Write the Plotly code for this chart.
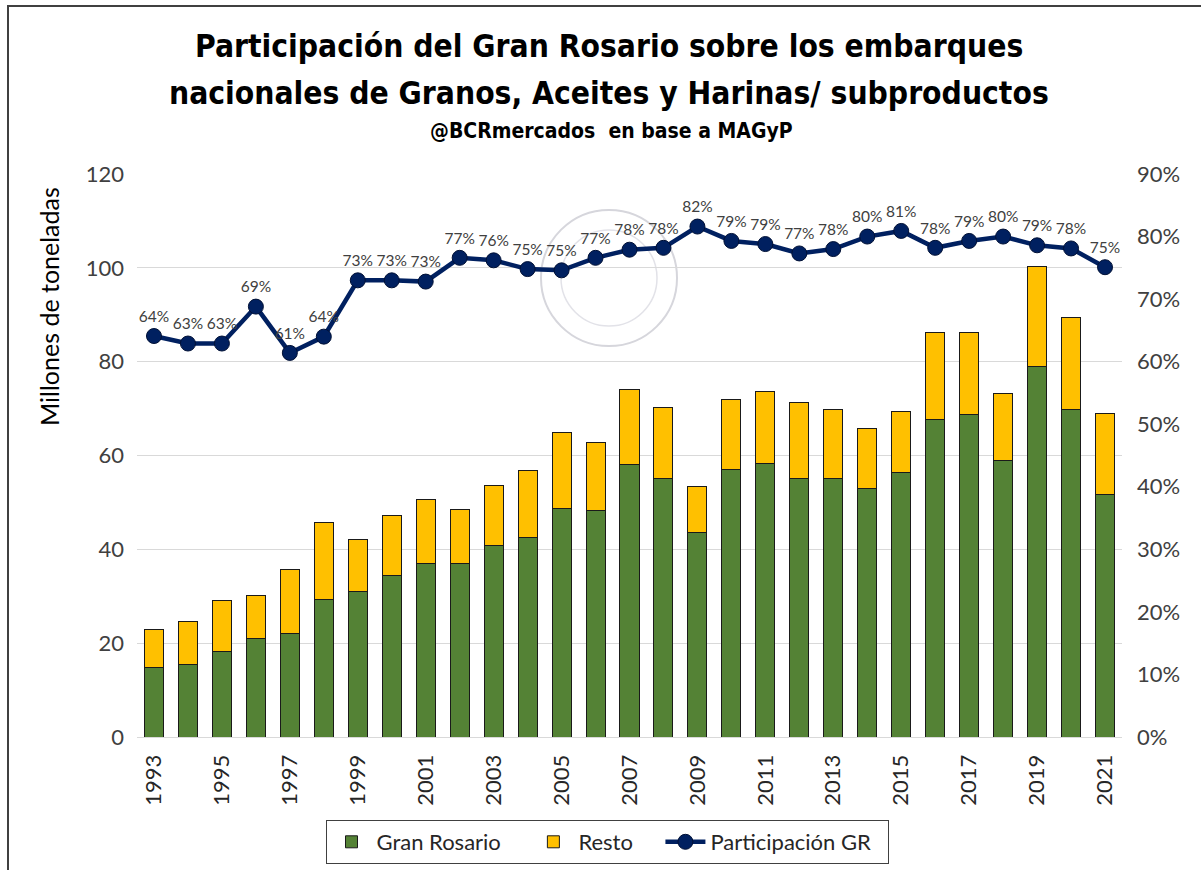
import plotly.graph_objects as go

years = list(range(1993, 2022))
gran_rosario = [14.8, 15.4, 18.3, 20.9, 22.1, 29.3, 31.1, 34.5, 37.0, 37.0,
                40.9, 42.6, 48.6, 48.2, 58.0, 55.1, 43.6, 57.1, 58.3, 55.1,
                55.1, 52.9, 56.3, 67.7, 68.7, 58.9, 79.0, 69.9, 51.7]
total = [22.9, 24.6, 29.0, 30.1, 35.8, 45.8, 42.1, 47.3, 50.7, 48.5,
         53.6, 56.7, 65.0, 62.8, 74.1, 70.2, 53.3, 72.0, 73.7, 71.4,
         69.8, 65.7, 69.4, 86.2, 86.2, 73.3, 100.2, 89.4, 68.9]
resto = [round(t - g, 1) for t, g in zip(total, gran_rosario)]
participacion = [0.641, 0.629, 0.629, 0.688, 0.614, 0.640, 0.730, 0.730, 0.728, 0.766,
                 0.762, 0.748, 0.746, 0.766, 0.779, 0.782, 0.816, 0.793, 0.788, 0.773,
                 0.780, 0.800, 0.809, 0.782, 0.793, 0.800, 0.786, 0.781, 0.751]
xtick_years = list(range(1993, 2022, 2))

W, H = 1201, 870
L, R, T, B = 137, 1122, 174, 737


def px(x):
    return (x - L) / (R - L)


def py(y):
    return (B - y) / (B - T)


NB = "\u00a0"

fig = go.Figure()
fig.add_trace(go.Bar(x=years, y=gran_rosario, name="Gran Rosario" + NB * 4,
                     marker=dict(color="#548235", line=dict(color="#1a1a1a", width=1))))
fig.add_trace(go.Bar(x=years, y=resto, name="Resto" + NB * 4,
                     marker=dict(color="#FFC000", line=dict(color="#1a1a1a", width=1))))
fig.add_trace(go.Scatter(x=years, y=participacion, name="Participación GR" + NB * 2, yaxis="y2",
                         mode="lines+markers+text",
                         line=dict(color="#002060", width=4.5),
                         marker=dict(color="#002060", size=15, line=dict(color="#001035", width=1)),
                         text=[f"{round(p * 100)}%" for p in participacion],
                         textposition="top center",
                         textfont=dict(family="Lato, Open Sans, sans-serif", size=15.5, color="#404040"),
                         cliponaxis=False))

tick_font = dict(family="Lato, Open Sans, sans-serif", size=22, color="#404040")

fig.update_layout(
    width=W, height=H,
    margin=dict(l=L, r=W - R, t=T, b=H - B, autoexpand=False),
    paper_bgcolor="white", plot_bgcolor="white",
    barmode="stack", bargap=0.44,
    showlegend=True,
    legend=dict(orientation="h", xref="container", yref="container",
                x=607 / W, y=1 - 842 / H, xanchor="center", yanchor="middle",
                bordercolor="#404040", borderwidth=1, bgcolor="white",
                font=dict(family="Lato, Open Sans, sans-serif", size=22, color="#262626"),
                traceorder="normal", itemwidth=40, tracegroupgap=0),
    xaxis=dict(range=[1992.5, 2021.5], tickmode="array", tickvals=xtick_years,
               ticktext=[str(y) for y in xtick_years], tickangle=-90,
               tickfont=dict(family="Lato, Open Sans, sans-serif", size=22, color="#262626"),
               showgrid=False, showline=True, linecolor="#d9d9d9", linewidth=1,
               ticks="", ticklabelstandoff=8, automargin=False),
    yaxis=dict(range=[0, 120], dtick=20, tickfont=tick_font, showgrid=True,
               gridcolor="#d9d9d9", gridwidth=1, zeroline=False, showline=False,
               ticklabelstandoff=12, automargin=False),
    yaxis2=dict(range=[0, 0.9], dtick=0.1, tickformat=".0%", overlaying="y", side="right",
                tickfont=tick_font, showgrid=False, zeroline=False, showline=False,
                ticklabelstandoff=14, automargin=False),
    font=dict(family="Lato, Open Sans, sans-serif"),
)

title_font = "Liberation Sans Narrow, DejaVu Sans Condensed, Arial Narrow, sans-serif"
annotations = [
    dict(text="<b>Participación del Gran Rosario sobre los embarques</b>", x=px(609), y=py(46),
         font=dict(family=title_font, size=31.5, color="#000000")),
    dict(text="<b>nacionales de Granos, Aceites y Harinas/ subproductos</b>", x=px(609), y=py(93),
         font=dict(family=title_font, size=31.5, color="#000000")),
    dict(text="<b>@BCRmercados  en base a MAGyP</b>", x=px(611), y=py(131),
         font=dict(family=title_font, size=21, color="#000000")),
    dict(text="Millones de toneladas", x=px(49), y=py(307), textangle=-90,
         font=dict(family="Lato, Open Sans, sans-serif", size=25, color="#000000")),
]
for a in annotations:
    a.update(xref="paper", yref="paper", showarrow=False, xanchor="center", yanchor="middle")
fig.update_layout(annotations=annotations)

# faint watermark seal
fig.add_shape(type="circle", xref="paper", yref="paper", layer="below",
              x0=px(541), x1=px(677), y0=py(346), y1=py(210),
              line=dict(color="#d6d6dc", width=2))
fig.add_shape(type="circle", xref="paper", yref="paper", layer="below",
              x0=px(561), x1=px(657), y0=py(326), y1=py(230),
              line=dict(color="#e2e2e8", width=1.5))

fig.add_shape(type="rect", xref="paper", yref="paper",
              x0=px(8), y0=py(6), x1=px(1215), y1=py(885),
              line=dict(color="#404040", width=2), fillcolor="rgba(0,0,0,0)", layer="above")

fig.write_html("out.html", config={"displayModeBar": False},
               post_script="document.body.style.margin='0';")
